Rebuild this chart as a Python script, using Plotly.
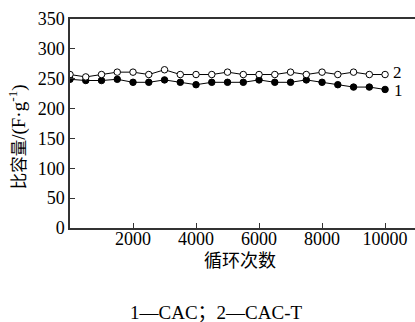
import plotly.graph_objects as go

cycles = [0, 500, 1000, 1500, 2000, 2500, 3000, 3500, 4000, 4500, 5000,
          5500, 6000, 6500, 7000, 7500, 8000, 8500, 9000, 9500, 10000]
cap_cac = [249, 247, 247, 249, 244, 244, 248, 244, 240, 244, 244,
           244, 248, 244, 244, 248, 244, 240, 236, 236, 232]
cap_cact = [257, 253, 257, 261, 261, 257, 265, 257, 257, 257, 261,
            257, 257, 257, 261, 257, 261, 257, 261, 257, 257]
series_labels = ["1", "2"]
x_ticks = [2000, 4000, 6000, 8000, 10000]
x_ticktext = ["2000", "4000", "6000", "8000", "10000"]
y_ticks = [0, 50, 100, 150, 200, 250, 300, 350]
y_ticktext = ["0", "50", "100", "150", "200", "250", "300", "350"]

serif = "Liberation Serif, Times New Roman, serif"
cjk = "Liberation Serif, Noto Sans CJK SC, serif"

fig = go.Figure()
fig.add_trace(go.Scatter(x=cycles, y=cap_cac, mode="lines+markers",
                         line=dict(color="black", width=1),
                         marker=dict(symbol="circle", size=6.5, color="black",
                                     line=dict(color="black", width=1)),
                         showlegend=False))
fig.add_trace(go.Scatter(x=cycles, y=cap_cact, mode="lines+markers",
                         line=dict(color="black", width=1),
                         marker=dict(symbol="circle", size=6.5, color="white",
                                     line=dict(color="black", width=1)),
                         showlegend=False))

fig.add_annotation(x=cycles[-1], y=cap_cac[-1], text=series_labels[0],
                   showarrow=False, xanchor="left", yanchor="middle",
                   xshift=7, yshift=-1, font=dict(family=serif, size=17, color="black"))
fig.add_annotation(x=cycles[-1], y=cap_cact[-1], text=series_labels[1],
                   showarrow=False, xanchor="left", yanchor="middle",
                   xshift=6, yshift=2, font=dict(family=serif, size=17, color="black"))

fig.add_annotation(xref="paper", yref="paper", x=0.494, y=-0.16,
                   text="循环次数", showarrow=False, xanchor="center", yanchor="middle",
                   font=dict(family=cjk, size=18, color="black"))
fig.add_annotation(xref="paper", yref="paper", x=0.422, y=-0.402,
                   text="1—CAC；2—CAC-T", showarrow=False, xanchor="center", yanchor="middle",
                   font=dict(family=cjk, size=19, color="black"))
fig.add_annotation(xref="paper", yref="paper", x=-0.153, y=0.435,
                   text='<span style="font-size:16.5px">比容量</span>/(F·g<sup>-1</sup>)',
                   showarrow=False, textangle=-90,
                   xanchor="center", yanchor="middle",
                   font=dict(family=cjk, size=19, color="black"))

fig.update_layout(
    width=415, height=322,
    margin=dict(l=70, r=0, t=19, b=94, autoexpand=False),
    paper_bgcolor="white", plot_bgcolor="white",
    font=dict(family=serif, size=18, color="black"),
)
fig.update_xaxes(range=[0, 10950], tickvals=x_ticks, ticktext=x_ticktext,
                 ticks="inside", ticklen=5, automargin=False, ticklabelstandoff=-6,
                 showline=True, linecolor="#333", linewidth=1.5, mirror=True,
                 showgrid=False, zeroline=False, tickcolor="#333",
                 tickfont=dict(family=serif, size=18, color="black"))
fig.update_yaxes(range=[0, 350], tickvals=y_ticks, ticktext=y_ticktext,
                 ticks="inside", ticklen=5, automargin=False,
                 showline=True, linecolor="#333", linewidth=1.5, mirror=False,
                 showgrid=False, zeroline=False, tickcolor="#333",
                 tickfont=dict(family=serif, size=18, color="black"))

fig.write_html("out.html", config={"displayModeBar": False},
               post_script="document.body.style.margin='0';document.body.style.padding='0';")
